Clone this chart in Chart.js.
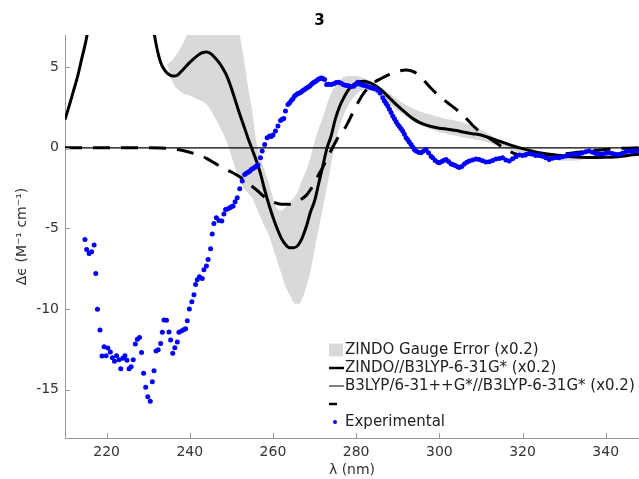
<!DOCTYPE html>
<html>
<head>
<meta charset="utf-8">
<script src="https://cdn.jsdelivr.net/npm/chart.js@4"></script>
<style>
  body { margin: 0; background: #fff; overflow: hidden; }
  #wrap { width: 639px; height: 479px; }
</style>
</head>
<body>
<div id="wrap"><canvas id="cd3"></canvas></div>
<script>
// experimental CD spectrum (blue dots)
const expX = [214.8,215.2,215.8,216.4,217.0,217.4,217.8,218.4,218.9,219.4,219.9,220.3,220.9,221.4,221.9,222.4,223.0,223.4,223.9,224.4,224.9,225.4,225.9,226.4,226.9,227.4,227.9,228.4,228.9,229.4,229.9,230.5,231.0,231.4,231.9,232.4,233.0,233.4,233.8,234.4,235.0,235.4,235.9,236.4,237.0,237.4,238.0,238.5,239.0,239.4,239.9,240.5,241.0,241.4,241.8,242.3,243.0,243.4,244.0,244.4,245.0,245.4,245.8,
  246.4,247.0,247.7,248.2,248.6,249.1,249.6,250.0,250.4,250.9,251.4,252.0,252.6,253.2,253.6,254.0,254.4,254.8,255.2,255.6,256.0,256.4,257.0,257.4,258.0,258.6,259.2,259.6,260.0,260.6,261.2,261.8,262.2,262.6,263.0,263.6,264.0,264.4,264.8,265.2,265.6,266.0,266.4,266.8,267.2,267.6,268.0,268.4,268.8,269.2,269.6,270.0,270.4,270.8,271.2,271.6,272.0,272.4,272.9,
  273.4,274.0,274.6,275.2,275.8,276.4,277.0,277.6,278.2,278.8,279.4,280.0,280.4,281.0,281.6,282.2,282.8,283.4,284.0,284.6,285.2,285.8,286.4,286.8,287.2,287.6,288.0,288.4,288.8,289.2,289.6,290.0,290.4,290.8,291.2,291.6,292.0,292.4,292.8,293.2,293.6,294.0,294.4,295.0,295.6,296.2,296.8,297.4,298.0,298.4,299.0,299.6,300.0,300.6,301.0,301.6,302.2,302.8,303.2,303.8,304.4,304.8,305.4,306.0,306.6,
  307.2,308.0,308.8,309.6,310.4,311.2,312.0,312.8,313.6,314.4,315.2,316.0,316.8,317.6,318.4,319.2,320.0,320.8,321.6,322.4,323.2,324.0,324.8,325.6,326.4,327.2,328.0,328.8,329.6,330.4,331.2,332.0,332.8,333.6,334.4,335.2,336.0,336.8,337.6,338.4,339.2,340.0,340.8,341.6,342.4,343.2,344.0,344.8,345.6,346.4,347.2,348.0];
const expY = [-5.68,-6.30,-6.55,-6.45,-6.03,-7.79,-10.02,-11.30,-12.91,-12.34,-12.90,-12.42,-12.67,-13.02,-13.24,-12.90,-13.14,-13.70,-13.06,-12.90,-13.18,-13.70,-13.58,-13.14,-12.17,-11.88,-11.76,-12.69,-13.99,-14.85,-15.44,-15.72,-14.51,-13.83,-12.60,-12.52,-12.13,-11.44,-10.68,-10.70,-11.43,-11.92,-12.75,-12.40,-12.05,-11.44,-11.36,-11.28,-11.22,-10.72,-10.00,-9.55,-9.11,-8.47,-8.18,-7.99,-8.10,-7.56,-7.33,-6.92,-6.26,-5.35,-4.69,
  -4.34,-4.50,-4.54,-4.10,-3.82,-3.80,-3.72,-3.65,-3.61,-3.35,-3.10,-2.54,-2.06,-1.65,-1.58,-1.51,-1.45,-1.34,-1.28,-1.20,-1.12,-1.07,-0.62,-0.20,0.21,0.62,0.73,0.70,0.79,1.04,1.35,1.70,1.78,1.82,2.28,2.69,2.80,2.94,3.05,3.21,3.30,3.37,3.40,3.47,3.55,3.62,3.70,3.76,3.82,3.93,4.03,4.09,4.15,4.24,4.28,4.34,4.30,4.24,3.93,
  3.95,3.93,3.98,4.05,4.07,4.00,3.92,3.87,3.85,3.80,3.82,3.95,4.07,3.95,3.88,3.87,3.80,3.74,3.70,3.66,3.58,3.40,3.10,2.90,2.75,2.59,2.40,2.20,1.97,1.80,1.62,1.45,1.32,1.18,1.04,0.85,0.62,0.50,0.35,0.21,0.05,-0.10,-0.20,-0.28,-0.31,-0.20,-0.10,-0.30,-0.52,-0.62,-0.78,-0.90,-0.93,-0.85,-0.78,-0.72,-0.85,-0.98,-1.03,-1.10,-1.18,-1.22,-1.15,-1.00,-0.90,
  -0.82,-0.75,-0.70,-0.72,-0.80,-0.88,-0.87,-0.78,-0.70,-0.66,-0.62,-0.75,-0.82,-0.68,-0.55,-0.45,-0.48,-0.42,-0.37,-0.40,-0.47,-0.45,-0.52,-0.62,-0.72,-0.65,-0.60,-0.62,-0.55,-0.50,-0.45,-0.42,-0.40,-0.37,-0.30,-0.25,-0.20,-0.28,-0.35,-0.37,-0.38,-0.33,-0.31,-0.35,-0.40,-0.41,-0.33,-0.25,-0.20,-0.22,-0.18,-0.16];

// ZINDO//B3LYP-6-31G* (x0.2), thick solid
const zindoX = [210,211,212,213,214,215,216,218,220,222,224,226,228,230,231,232,233,234,235,236,237,238,240,242,243,244,245,246,247,248,249,250,251,252,253,254,255,256,257,258,259,260,261,262,263,264,265,266,267,268,269,270,271,272,273,274,275,276,277,278,279,280,281,282,283,284,286,288,290,292,294,296,298,300,302,304,306,308,310,312,314,316,318,320,322,324,326,328,330,332,334,336,338,340,342,344,346,348];
const zindoY = [1.76,2.6,3.5,4.4,5.5,6.6,8.0,11,14,16,17,16,13,9.5,7.8,6.3,5.3,4.8,4.55,4.45,4.5,4.75,5.3,5.75,5.9,5.95,5.85,5.6,5.3,4.9,4.4,3.7,2.9,2.1,1.35,0.6,-0.1,-0.8,-1.6,-2.6,-3.5,-4.3,-5.0,-5.6,-6.0,-6.2,-6.2,-6.05,-5.6,-4.9,-4.0,-3.3,-2.2,-1.1,0.0,0.75,1.8,2.55,3.1,3.55,3.85,4.03,4.12,4.13,4.06,3.95,3.6,3.1,2.6,2.15,1.75,1.48,1.32,1.22,1.15,1.07,0.97,0.88,0.8,0.63,0.45,0.28,0.1,-0.05,-0.18,-0.3,-0.38,-0.44,-0.5,-0.55,-0.58,-0.6,-0.6,-0.59,-0.57,-0.52,-0.45,-0.4];

// dashed curve
const dashX = [210,215,220,225,230,234,236,238,240,242,244,246,248,250,252,254,256,258,260,262,264,266,268,269,270,271,272,273,274,275,276,277,278,280,282,284,286,288,290,292,294,296,298,300,302,304,306,308,310,312,314,316,318,320,322,324,326,328,332,336,340,344,348];
const dashY = [0,0,0,0,0,-0.02,-0.08,-0.15,-0.28,-0.42,-0.65,-0.95,-1.25,-1.5,-1.8,-2.2,-2.6,-3.05,-3.35,-3.5,-3.5,-3.3,-2.95,-2.6,-2.15,-1.65,-1.2,-0.65,-0.15,0.35,0.8,1.1,1.55,2.6,3.45,4.0,4.3,4.55,4.75,4.83,4.7,4.25,3.7,3.2,2.8,2.4,1.95,1.4,0.95,0.6,0.25,-0.1,-0.35,-0.48,-0.52,-0.52,-0.48,-0.42,-0.32,-0.2,-0.1,-0.03,0];

// zero reference line (thin)
const zeroX = [210, 348];
const zeroY = [0, 0];

// ZINDO gauge error band (x0.2)
const bandX = [234.5,236,238,240,242,244,246,247,248,249,250,251,252,253,254,255,256,257,258,259,260,261,262,263,264,265,266,267,268,269,270,271,272,273,274,275,276,278,280,282,284,286,288,290,292,294,296,298,300,302,304,306,308,310,312,314,316,318,320,322,324,326,328,330,332,334,336];
const bandHi = [5.2,5.5,6.3,7.4,8.5,9,9,9,9,9,8.5,8,7.0,5.5,3.8,2.3,0.4,-0.6,-1.4,-2.2,-3.1,-3.8,-3.9,-3.7,-3.4,-3.1,-2.7,-2.0,-1.4,-0.6,0.4,1.2,1.9,2.7,3.4,3.9,4.2,4.45,4.45,4.3,4.1,3.75,3.4,3.0,2.65,2.4,2.2,2.05,1.9,1.78,1.68,1.55,1.35,1.1,0.85,0.55,0.3,0.05,-0.15,-0.3,-0.4,-0.45,-0.5,-0.55,-0.6,-0.62,-0.65];
const bandLo = [5.2,4.0,3.45,3.25,3.0,2.7,1.9,1.4,0.9,0.3,-0.5,-1.3,-2.0,-2.5,-2.8,-3.1,-3.7,-4.3,-4.9,-5.4,-6.2,-7.0,-7.8,-8.6,-9.1,-9.6,-9.7,-9.4,-8.6,-7.7,-6.3,-5.0,-3.7,-2.4,-1.0,0.3,1.3,2.6,3.3,3.6,3.5,3.1,2.7,2.3,1.95,1.6,1.35,1.15,0.97,0.85,0.75,0.62,0.55,0.45,0.3,0.12,-0.05,-0.2,-0.35,-0.45,-0.55,-0.65,-0.75,-0.8,-0.8,-0.75,-0.65];

// axis ticks
const xTicks = [220, 240, 260, 280, 300, 320, 340];
const yTicks = [-15, -10, -5, 0, 5];

const legendLabels = ['ZINDO Gauge Error (x0.2)', 'ZINDO//B3LYP-6-31G* (x0.2)', 'B3LYP/6-31++G*//B3LYP-6-31G* (x0.2)', '', 'Experimental'];

const pts = (xs, ys) => xs.map((x, i) => ({x: x, y: ys[i]}));

Chart.defaults.font.family = 'DejaVu Sans';
Chart.defaults.color = '#333';

// small inward tick marks, matlab style
const innerTicks = {
  id: 'innerTicks',
  afterDraw(chart) {
    const ctx = chart.ctx;
    const xs = chart.scales.x, ys = chart.scales.y;
    const a = chart.chartArea;
    ctx.save();
    ctx.strokeStyle = '#999';
    ctx.lineWidth = 1;
    ctx.beginPath();
    xs.ticks.forEach(t => {
      const px = Math.round(xs.getPixelForValue(t.value)) + 0.5;
      ctx.moveTo(px, a.bottom);
      ctx.lineTo(px, a.bottom - 5);
    });
    ys.ticks.forEach(t => {
      const py = Math.round(ys.getPixelForValue(t.value)) + 0.5;
      ctx.moveTo(a.left, py);
      ctx.lineTo(a.left + 5, py);
    });
    ctx.stroke();
    ctx.restore();
  }
};

// legend drawn inside the plot, bottom right
const boxLegend = {
  id: 'boxLegend',
  afterDraw(chart) {
    const ctx = chart.ctx;
    const x0 = 329, y0 = 350, row = 18;
    ctx.save();
    ctx.font = '15px "DejaVu Sans"';
    ctx.textBaseline = 'middle';
    ctx.fillStyle = '#222';
    legendLabels.forEach((txt, i) => {
      const y = y0 + i * row;
      ctx.save();
      if (i === 0) {
        ctx.fillStyle = '#d9d9d9';
        ctx.fillRect(x0, y - 6.5, 14, 13);
      } else if (i === 4) {
        ctx.fillStyle = '#0000ff';
        ctx.beginPath();
        ctx.arc(x0 + 6, y, 2, 0, Math.PI * 2);
        ctx.fill();
      } else {
        ctx.strokeStyle = '#000';
        ctx.lineWidth = i === 2 ? 1 : 2.5;
        ctx.beginPath();
        ctx.moveTo(x0, y);
        ctx.lineTo(i === 3 ? x0 + 8 : x0 + 15, y);
        ctx.stroke();
      }
      ctx.restore();
      if (txt) ctx.fillText(txt, x0 + 16, y);
    });
    ctx.restore();
  }
};

new Chart(document.getElementById('cd3'), {
  type: 'scatter',
  data: {
    datasets: [
      {
        label: legendLabels[4],
        data: pts(expX, expY),
        showLine: false,
        pointRadius: 2.5,
        pointBackgroundColor: '#0000ff',
        pointBorderWidth: 0,
        order: 0
      },
      {
        label: legendLabels[1],
        data: pts(zindoX, zindoY),
        showLine: true,
        borderColor: '#000',
        borderWidth: 3,
        pointRadius: 0,
        cubicInterpolationMode: 'monotone',
        order: 1
      },
      {
        label: legendLabels[3],
        data: pts(dashX, dashY),
        showLine: true,
        borderColor: '#000',
        borderWidth: 3,
        borderDash: [17, 11],
        pointRadius: 0,
        cubicInterpolationMode: 'monotone',
        order: 2
      },
      {
        label: legendLabels[2],
        data: pts(zeroX, zeroY),
        showLine: true,
        borderColor: '#000',
        borderWidth: 1.2,
        pointRadius: 0,
        order: 3
      },
      {
        label: legendLabels[0],
        data: pts(bandX, bandHi),
        showLine: true,
        borderWidth: 0,
        borderColor: 'rgba(0,0,0,0)',
        backgroundColor: '#d9d9d9',
        pointRadius: 0,
        cubicInterpolationMode: 'monotone',
        fill: 5,
        order: 4
      },
      {
        label: 'band low',
        data: pts(bandX, bandLo),
        showLine: true,
        borderWidth: 0,
        borderColor: 'rgba(0,0,0,0)',
        pointRadius: 0,
        cubicInterpolationMode: 'monotone',
        fill: false,
        order: 5
      }
    ]
  },
  options: {
    responsive: true,
    maintainAspectRatio: false,
    animation: false,
    layout: { padding: 0, autoPadding: false },
    plugins: {
      legend: { display: false },
      tooltip: { enabled: false },
      title: {
        display: true,
        text: '3',
        color: '#000',
        font: { size: 15, weight: 'bold' },
        padding: { top: 12, bottom: 5 }
      }
    },
    scales: {
      x: {
        type: 'linear',
        min: 210,
        max: 348,
        border: { display: true, color: '#999' },
        grid: { drawOnChartArea: false, drawTicks: false },
        ticks: { font: { size: 14 }, padding: 6, maxRotation: 0 },
        afterBuildTicks(scale) { scale.ticks = xTicks.map(v => ({value: v})); },
        afterFit(scale) { scale.paddingLeft = 0; scale.paddingRight = 0; scale.height = 41; },
        title: { display: true, text: 'λ (nm)', font: { size: 14 }, color: '#333', padding: { top: 0, bottom: 0 } }
      },
      y: {
        min: -18,
        max: 7,
        border: { display: true, color: '#999' },
        grid: { drawOnChartArea: false, drawTicks: false },
        ticks: { font: { size: 14 }, padding: 6 },
        afterBuildTicks(scale) { scale.ticks = yTicks.map(v => ({value: v})); },
        title: { display: true, text: 'Δϵ (M⁻¹ cm⁻¹)', font: { size: 14 }, color: '#333', padding: { top: 14, bottom: 0 } },
        afterFit(scale) { scale.width = 65; }
      }
    }
  },
  plugins: [innerTicks, boxLegend]
});
</script>
</body>
</html>
